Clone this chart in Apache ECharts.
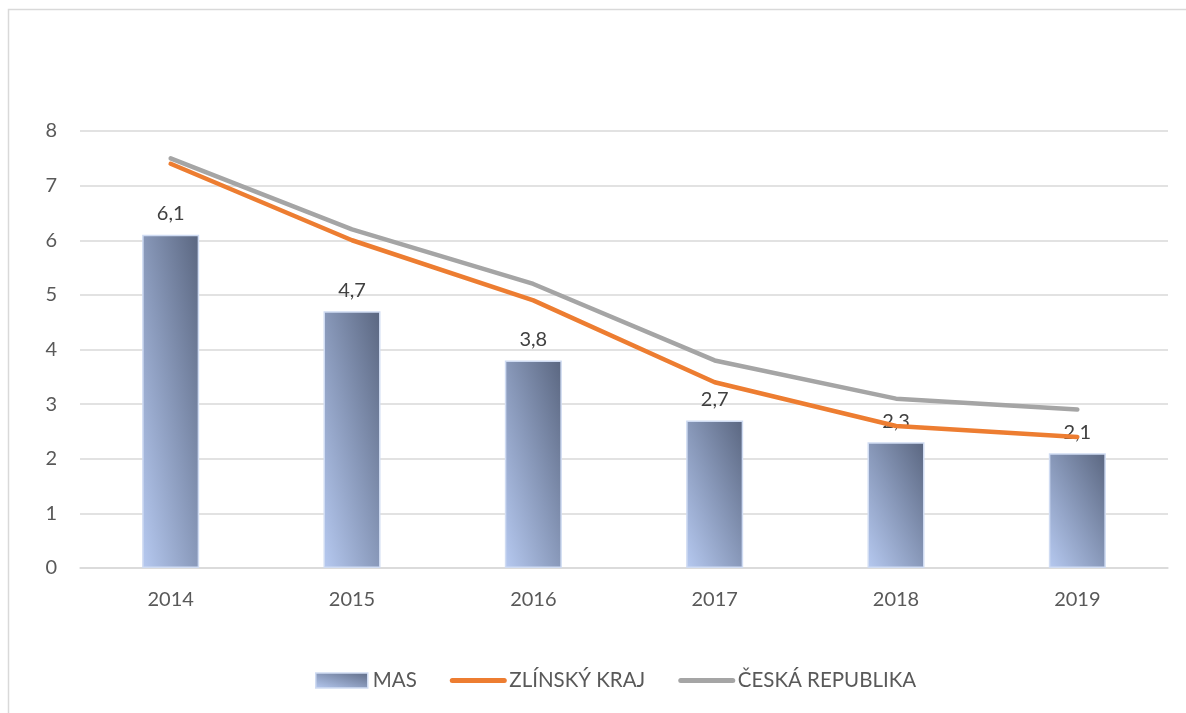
<!DOCTYPE html>
<html><head><meta charset="utf-8">
<script src="https://cdn.jsdelivr.net/npm/echarts@6/dist/echarts.min.js"></script>
<style>html,body{margin:0;padding:0;background:#fff}#c{width:1186px;height:713px}</style>
</head><body><div id="c"></div>
<script>
const categories = ['2014','2015','2016','2017','2018','2019'];
const masValues = [6.1, 4.7, 3.8, 2.7, 2.3, 2.1];
const zlinValues = [7.4, 6.0, 4.9, 3.4, 2.6, 2.4];
const crValues = [7.5, 6.2, 5.2, 3.8, 3.1, 2.9];
const yTicks = [0,1,2,3,4,5,6,7,8];
const seriesNames = ['MAS', 'ZLÍNSKÝ KRAJ', 'ČESKÁ REPUBLIKA'];

const font = 'Lato, "Open Sans", sans-serif';
const BAR_W = 57;
const LEG_W = 52, LEG_H = 15;
const chart = echarts.init(document.getElementById('c'), null, {renderer:'canvas'});

function diagGrad(w, h){
  // Excel-style scaled diagonal: bottom-left light, top-right dark
  const L2 = w*w + h*h;
  return new echarts.graphic.LinearGradient(0, 1, 2*h*h/L2, 1 - 2*w*w/L2, [
    {offset:0, color:'#b6c9f0'},
    {offset:0.5, color:'#8898b9'},
    {offset:1, color:'#5a6680'}
  ]);
}

const option = {
  animation:false,
  textStyle:{fontFamily:font},
  graphic:[{type:'rect', shape:{x:8.5,y:9.5,width:1200,height:720},
    style:{fill:'none', stroke:'#d9d9d9', lineWidth:1.5}, silent:true, z:-1}],
  grid:{left:80, right:18, top:131, bottom:145},
  legend:{
    bottom:17, left:310, itemGap:33, itemWidth:LEG_W, itemHeight:LEG_H,
    textStyle:{fontSize:20.5, color:'#595959', fontFamily:font, padding:[0,0,0,0]},
    data:[
      {name:seriesNames[0], icon:'rect',
       itemStyle:{color:diagGrad(LEG_W, LEG_H), borderColor:'#cfdbf2', borderWidth:1.5}},
      {name:seriesNames[1], itemStyle:{opacity:0},
       lineStyle:{width:5, color:'#ed7d31', cap:'round'}},
      {name:seriesNames[2], itemStyle:{opacity:0},
       lineStyle:{width:5, color:'#a5a5a5', cap:'round'}}
    ]
  },
  xAxis:{type:'category', data:categories,
    axisLine:{lineStyle:{color:'#d9d9d9', width:1.5}}, axisTick:{show:false},
    axisLabel:{fontSize:20, color:'#595959', margin:22, fontFamily:font}},
  yAxis:{type:'value', min:0, max:8, interval:1,
    axisLine:{show:false}, axisTick:{show:false},
    splitLine:{lineStyle:{color:'#d9d9d9', width:1.5}},
    axisLabel:{fontSize:20, color:'#595959', margin:23, fontFamily:font,
      formatter:v=>yTicks.includes(v)?String(v):''}},
  series:[
    {name:seriesNames[0], type:'bar', data:masValues, barWidth:BAR_W,
     itemStyle:{color:'#8898b9', borderColor:'#cfdbf2', borderWidth:1.5},
     label:{show:true, position:'top', distance:11, fontSize:20, color:'#404040', fontFamily:font,
       formatter:p=>String(p.value).replace('.',',')}},
    {name:seriesNames[1], type:'line', data:zlinValues, symbol:'none',
     lineStyle:{color:'#ed7d31', width:4.5, cap:'round'}, itemStyle:{color:'#ed7d31'}, z:3},
    {name:seriesNames[2], type:'line', data:crValues, symbol:'none',
     lineStyle:{color:'#a5a5a5', width:4.5, cap:'round'}, itemStyle:{color:'#a5a5a5'}, z:2}
  ]
};
chart.setOption(option);

// per-bar gradient sized from the bar's actual pixel height
const y0 = chart.convertToPixel({yAxisIndex:0}, 0);
const barData = masValues.map(v => {
  const h = Math.abs(y0 - chart.convertToPixel({yAxisIndex:0}, v));
  return {value:v, itemStyle:{color:diagGrad(BAR_W, h)}};
});
chart.setOption({series:[{name:seriesNames[0], data:barData}]});
</script></body></html>
